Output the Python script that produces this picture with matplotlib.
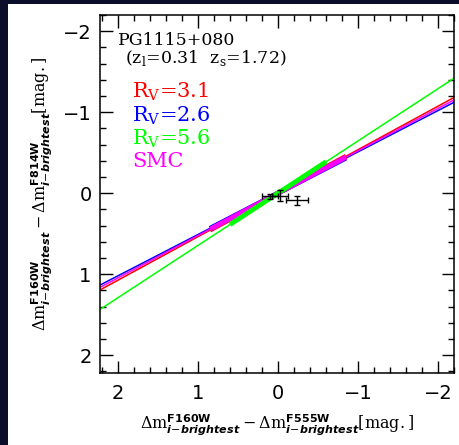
import matplotlib
matplotlib.use('Agg')
import matplotlib.pyplot as plt
import numpy as np
from matplotlib.patches import Rectangle
from matplotlib.ticker import MultipleLocator

# extinction-law slopes (F160W-F814W vs F160W-F555W)
law_names = ['R$_\\mathrm{V}$=3.1', 'R$_\\mathrm{V}$=2.6', 'R$_\\mathrm{V}$=5.6', 'SMC']
law_colors = ['#ff0000', '#0000ff', '#00ff00', '#ff00ff']
law_slopes = [0.537, 0.510, 0.645, 0.523]
law_fit_range = [0.85, 0.85, 0.60, 0.85]

# lensed image colours relative to the brightest image
img_x = [0.10, -0.03, -0.24]
img_y = [0.04, 0.03, 0.09]
img_xerr = [0.10, 0.10, 0.14]
img_yerr = [0.03, 0.07, 0.06]

plt.rcParams['mathtext.fontset'] = 'custom'
plt.rcParams['mathtext.rm'] = 'DejaVu Serif'
plt.rcParams['mathtext.it'] = 'DejaVu Sans:italic:bold'
plt.rcParams['mathtext.bf'] = 'DejaVu Sans:bold'

fig = plt.figure(figsize=(4.6, 4.45), dpi=100, facecolor='#0b0e2a')
fig.patches.append(Rectangle((8 / 460, 0), 1, 1 - 4 / 445, transform=fig.transFigure,
                             facecolor='white', edgecolor='none', zorder=-5))
ax = fig.add_axes([100 / 460, 1 - 373 / 445, 354 / 460, 358 / 445])
ax.set_facecolor('white')

xs = np.array([2.3, -2.3])
order = [0, 1, 3, 2]
for i in order:
    ax.plot(xs, law_slopes[i] * xs, color=law_colors[i], lw=1.1, zorder=2)
    r = np.array([law_fit_range[i], -law_fit_range[i]])
    ax.plot(r, law_slopes[i] * r, color=law_colors[i], lw=3.5, zorder=3,
            solid_capstyle='butt')

ax.errorbar(img_x, img_y, xerr=img_xerr, yerr=img_yerr, fmt='none', ecolor='black',
            elinewidth=1.0, capsize=2.5, capthick=1.0, zorder=5)

ax.set_xlim(2.225, -2.2)
ax.set_ylim(2.22, -2.2)
ax.xaxis.set_major_locator(MultipleLocator(1))
ax.xaxis.set_minor_locator(MultipleLocator(0.2))
ax.yaxis.set_major_locator(MultipleLocator(1))
ax.yaxis.set_minor_locator(MultipleLocator(0.2))
ax.tick_params(which='both', direction='in', top=True, right=True, width=1.0)
ax.tick_params(which='major', length=9, labelsize=14)
ax.tick_params(axis='x', which='major', pad=8)
ax.tick_params(axis='y', which='major', pad=6)
ax.tick_params(which='minor', length=4.5)
for s in ax.spines.values():
    s.set_linewidth(1.1)

ax.set_xlabel(r'$\Delta\mathrm{m}^{\mathbf{F160W}}_{i{-}brightest}-\Delta\mathrm{m}^{\mathbf{F555W}}_{i{-}brightest}\mathrm{[mag.]}$',
              fontsize=11.5, labelpad=7)
ax.set_ylabel(r'$\Delta\mathrm{m}^{\mathbf{F160W}}_{i{-}brightest}-\Delta\mathrm{m}^{\mathbf{F814W}}_{i{-}brightest}\mathrm{[mag.]}$',
              fontsize=11.5, labelpad=6)

ax.text(0.05, 0.93, 'PG1115+080', transform=ax.transAxes, fontsize=12.5,
        family='DejaVu Serif', va='center')
ax.text(0.07, 0.88, '(z$_\\mathrm{l}$=0.31  z$_\\mathrm{s}$=1.72)', transform=ax.transAxes,
        fontsize=12.5, family='DejaVu Serif', va='center')
for k in range(4):
    ax.text(0.09, 0.785 - k * 0.065, law_names[k], transform=ax.transAxes, fontsize=15,
            family='DejaVu Serif', color=law_colors[k], va='center')

fig.savefig('out.png', dpi=100, facecolor=fig.get_facecolor())
